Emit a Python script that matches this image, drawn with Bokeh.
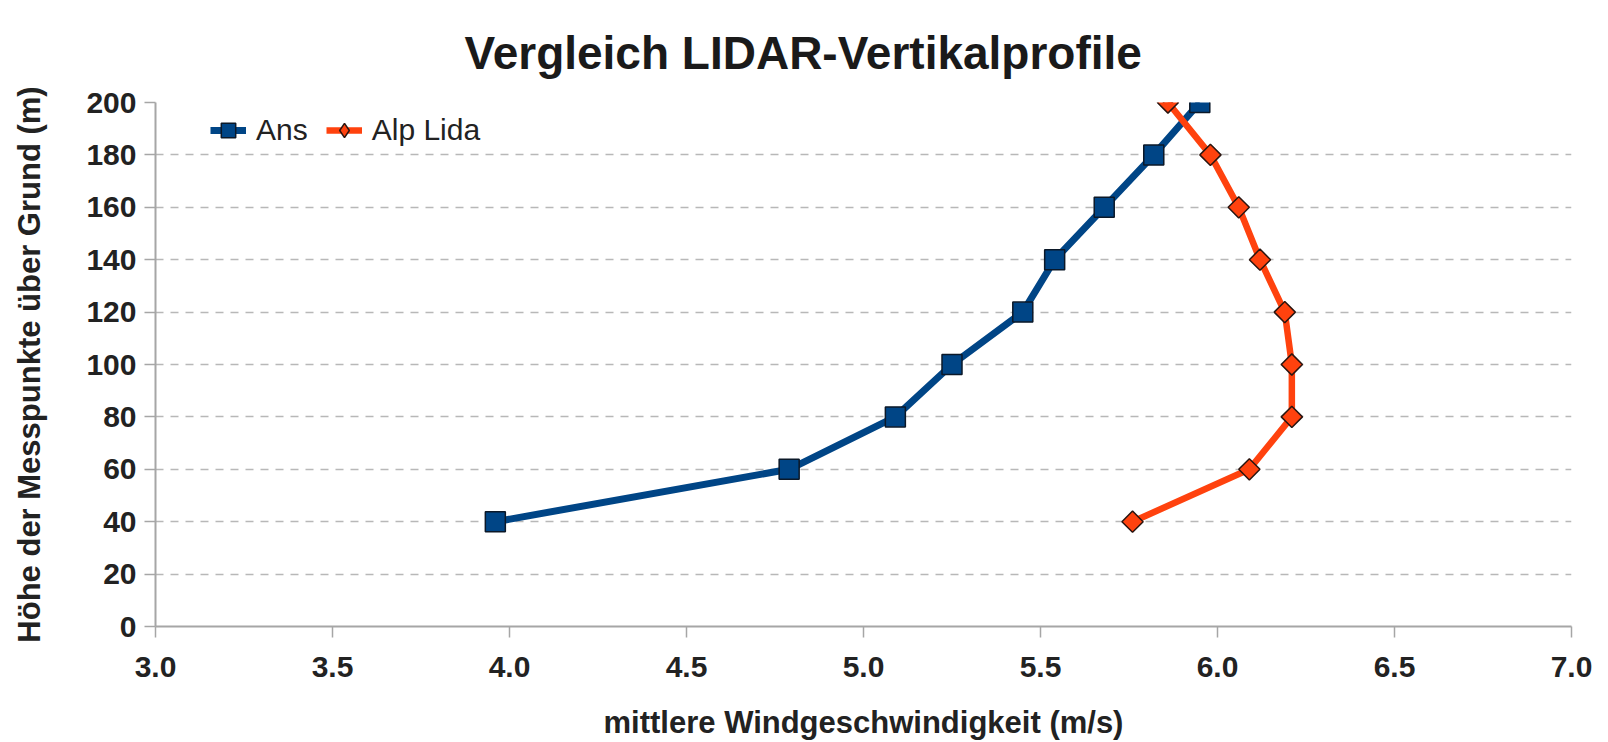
from bokeh.plotting import figure
from bokeh.models import Range1d, NumeralTickFormatter, Legend, LegendItem, ColumnDataSource
from bokeh.embed import file_html
from bokeh.resources import INLINE
import math

heights = [40, 60, 80, 100, 120, 140, 160, 180, 200]
ans = [3.96, 4.79, 5.09, 5.25, 5.45, 5.54, 5.68, 5.82, 5.95]
alp_lida = [5.76, 6.09, 6.21, 6.21, 6.19, 6.12, 6.06, 5.98, 5.86]
series_names = ["Ans", "Alp Lida"]
x_ticks = [3.0, 3.5, 4.0, 4.5, 5.0, 5.5, 6.0, 6.5, 7.0]
y_ticks = [0, 20, 40, 60, 80, 100, 120, 140, 160, 180, 200]

title_text = "Vergleich LIDAR-Vertikalprofile"
x_label = "mittlere Windgeschwindigkeit (m/s)"
y_label = "Höhe der Messpunkte über Grund (m)"

FONT = "Liberation Sans"
BLUE = "#004586"
ORANGE = "#ff420e"
AXIS = "#a6a6a6"

p = figure(width=1608, height=742, output_backend="svg", toolbar_location=None,
           x_range=Range1d(3, 7), y_range=Range1d(0, 200),
           min_border_left=155, min_border_right=37, min_border_top=102, min_border_bottom=110)
p.outline_line_color = None
p.background_fill_color = "white"
p.border_fill_color = "white"

p.title.text = title_text
p.title.align = "left"
p.title.offset = 309
p.title.text_font = FONT
p.title.text_font_style = "bold"
p.title.text_font_size = "46px"
p.title.text_color = "#1a1a1a"
p.title.standoff = 47

p.xaxis.ticker = x_ticks
p.yaxis.ticker = y_ticks
p.xaxis.formatter = NumeralTickFormatter(format="0.0")

for ax in (p.xaxis, p.yaxis):
    ax.axis_line_color = AXIS
    ax.axis_line_width = 2
    ax.major_tick_line_color = AXIS
    ax.major_tick_line_width = 1.5
    ax.major_tick_out = 11
    ax.major_tick_in = 0
    ax.minor_tick_line_color = None
    ax.major_label_text_font = FONT
    ax.major_label_text_font_style = "bold"
    ax.major_label_text_font_size = "30px"
    ax.major_label_text_color = "#222222"
    ax.axis_label_text_font = FONT
    ax.axis_label_text_font_style = "bold"
    ax.axis_label_text_font_size = "31px"
    ax.axis_label_text_color = "#222222"

p.xaxis.axis_label = x_label
p.yaxis.axis_label = y_label
p.xaxis.major_label_standoff = 19
p.yaxis.major_label_standoff = 8
p.xaxis.axis_label_standoff = 25
p.yaxis.axis_label_standoff = 36

p.xgrid.visible = False
p.ygrid.grid_line_color = "#b8b8b8"
p.ygrid.grid_line_dash = "8 7"
p.ygrid.grid_line_width = 1.5

src_a = ColumnDataSource(dict(x=ans, y=heights))
src_b = ColumnDataSource(dict(x=alp_lida, y=heights))

la = p.line("x", "y", source=src_a, line_color=BLUE, line_width=7)
ma = p.scatter("x", "y", source=src_a, marker="square", size=20, fill_color=BLUE,
               line_color="#0b1828", line_width=1.5)
lb = p.line("x", "y", source=src_b, line_color=ORANGE, line_width=6.5)
# diamond used for the legend symbol (hidden beneath the rotated squares in the plot)
mb_leg = p.scatter("x", "y", source=src_b, marker="diamond", size=14, fill_color=ORANGE,
                   line_color="#2a1510", line_width=1.5)
mb = p.scatter("x", "y", source=src_b, marker="square", angle=math.pi / 4, size=15,
               fill_color=ORANGE, line_color="#2a1510", line_width=1.5)

legend = Legend(items=[LegendItem(label=series_names[0], renderers=[la, ma]),
                       LegendItem(label=series_names[1], renderers=[lb, mb_leg])],
                orientation="horizontal", location=(55, 478))
legend.label_text_font = FONT
legend.label_text_font_size = "30px"
legend.label_text_color = "#222222"
legend.glyph_width = 36
legend.glyph_height = 36
legend.label_height = 36
legend.label_standoff = 10
legend.spacing = 18
legend.padding = 0
legend.margin = 0
legend.border_line_color = None
legend.background_fill_alpha = 0
p.add_layout(legend)

open("out.html", "w").write(file_html(p, INLINE))
